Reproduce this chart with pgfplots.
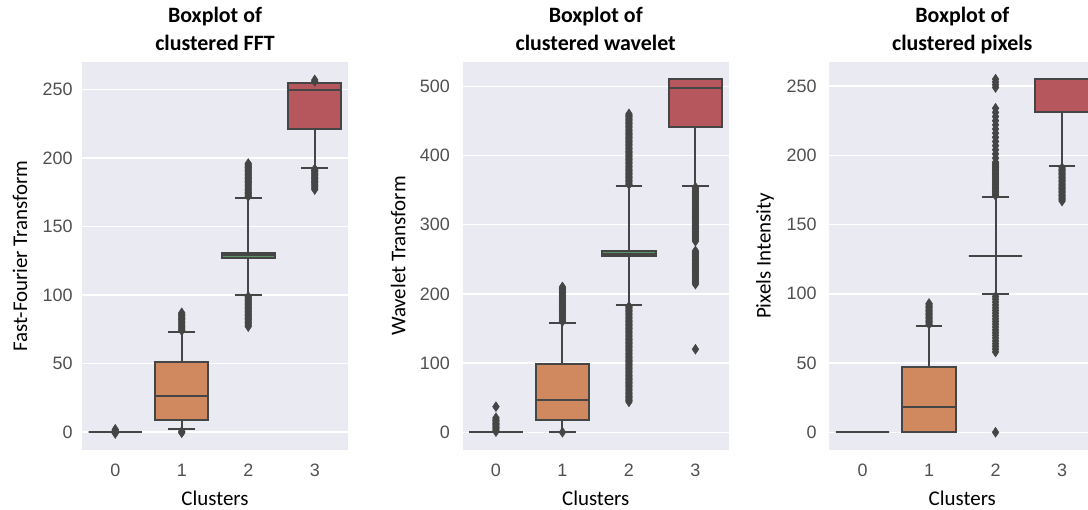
\documentclass[border=0pt]{standalone}
\usepackage{fontspec}
\setmainfont{Carlito}
\newfontfamily\tickfont{Liberation Sans}
\usepackage{pgfplots}
\pgfplotsset{compat=1.18}
\usepgfplotslibrary{statistics}

\definecolor{panelbg}{HTML}{EAEAF2}
\definecolor{edge}{HTML}{454545}
\definecolor{tickgray}{HTML}{505050}
\definecolor{c0}{HTML}{5A76A8}
\definecolor{c1}{HTML}{D0885E}
\definecolor{c2}{HTML}{5F9368}
\definecolor{c3}{HTML}{B5575C}

\pgfplotsset{
  clusterbox/.style={
    scale only axis, width=266bp, height=388bp, anchor=south west,
    xmin=-0.5, xmax=3.5,
    xtick={0,1,2,3}, xticklabels={0,1,2,3},
    axis line style={draw=none},
    major tick length=0pt,
    axis background/.style={fill=panelbg},
    ymajorgrids, xmajorgrids=false,
    major grid style={white, line width=1.4bp},
    tick label style={font=\tickfont\fontsize{18}{18}\selectfont, text=tickgray},
    /pgf/number format/assume math mode=true,
    xticklabel style={anchor=north, inner sep=0pt, yshift=-13.5bp},
    title style={font=\bfseries\fontsize{22}{28}\selectfont, align=center,
      anchor=south, inner sep=0pt, text depth=0pt,
      at={(axis description cs:0.5,1)}, yshift=5bp},
    every axis x label/.style={font=\fontsize{21}{21}\selectfont,
      at={(axis description cs:0.5,0)}, anchor=center, yshift=-48bp},
    xlabel=Clusters,
    boxplot/draw direction=y,
    boxplot/box extend=0.8,
    boxplot/whisker extend=0.4,
    boxplot/every box/.style={draw=edge, line width=2bp},
    boxplot/every whisker/.style={draw=edge, line width=2bp},
    boxplot/every median/.style={draw=edge, line width=2bp},
  },
  ylab/.style={every axis y label/.style={font=\fontsize{21}{21}\selectfont,
      at={(axis description cs:0,0.5)}, xshift=-#1, rotate=90, anchor=center}},
  ytl/.style={yticklabel style={anchor=east, inner sep=0pt, xshift=-#1}},
  cbox/.style={draw=edge, line width=2bp, fill=#1,
    mark=diamond*, mark size=5bp,
    mark options={fill=edge, draw=edge, solid, xscale=0.9, line width=0.4bp}},
}

\begin{document}
\begin{tikzpicture}
\path[use as bounding box] (0,0) rectangle (1088bp,510bp);
\clip (0,0) rectangle (1088bp,510bp);

% ---------- Fast-Fourier Transform ----------
\begin{axis}[clusterbox, at={(82bp,60bp)},
  ymin=-13.1, ymax=270.1, ytick={0,50,...,250},
  ylab=62bp, ytl=9.3bp,
  title={Boxplot of\\clustered FFT},
  ylabel={Fast-Fourier Transform}]
\addplot[cbox=c0, boxplot prepared={draw position=0,
  lower whisker=0, lower quartile=0, median=0, upper quartile=0, upper whisker=0}]
  table[row sep=\\, y index=0] {v\\ -1\\ 1\\ 2\\};
\addplot[cbox=c1, boxplot prepared={draw position=1,
  lower whisker=2, lower quartile=9, median=26, upper quartile=51, upper whisker=73}]
  table[row sep=\\, y index=0] {v\\ -0.5\\ 0.5\\
  74\\ 75\\ 76\\ 77\\ 78\\ 79\\ 80\\ 81\\ 82\\ 83\\ 84\\ 85\\ 86\\ 87\\};
\addplot[cbox=c2, boxplot prepared={draw position=2,
  lower whisker=100, lower quartile=127, median=129, upper quartile=131, upper whisker=171}]
  table[row sep=\\, y index=0] {v\\
  77\\ 78\\ 79\\ 80\\ 81\\ 82\\ 83\\ 84\\ 85\\ 86\\ 87\\ 88\\ 89\\ 90\\ 91\\ 92\\ 93\\ 94\\ 95\\ 96\\ 97\\ 98\\ 99\\
  172\\ 173\\ 174\\ 175\\ 176\\ 177\\ 178\\ 179\\ 180\\ 181\\ 182\\ 183\\ 184\\ 185\\ 186\\ 187\\ 188\\ 189\\ 190\\ 191\\ 192\\ 193\\ 194\\ 195\\ 196\\};
\addplot[cbox=c3, boxplot prepared={draw position=3,
  lower whisker=193, lower quartile=221.5, median=250, upper quartile=255, upper whisker=255}]
  table[row sep=\\, y index=0] {v\\
  177\\ 178\\ 179\\ 180\\ 181\\ 182\\ 183\\ 184\\ 185\\ 186\\ 187\\ 188\\ 189\\ 190\\ 191\\ 192\\
  256\\ 257\\};
\end{axis}

% ---------- Wavelet Transform ----------
\begin{axis}[clusterbox, at={(462.7bp,60bp)},
  ymin=-25.6, ymax=535, ytick={0,100,...,500},
  ylab=64.4bp, ytl=12.7bp,
  title={Boxplot of\\clustered wavelet},
  ylabel={Wavelet Transform}]
\addplot[cbox=c0, boxplot prepared={draw position=0,
  lower whisker=0, lower quartile=0, median=0, upper quartile=0, upper whisker=0}]
  table[row sep=\\, y index=0] {v\\
  1\\ 3\\ 5\\ 7\\ 9\\ 11\\ 13\\ 15\\ 17\\ 19\\ 21\\ 37\\};
\addplot[cbox=c1, boxplot prepared={draw position=1,
  lower whisker=1, lower quartile=18, median=47, upper quartile=99, upper whisker=158}]
  table[row sep=\\, y index=0] {v\\ 0\\
  160\\ 162\\ 164\\ 166\\ 168\\ 170\\ 172\\ 174\\ 176\\ 178\\ 180\\ 182\\ 184\\ 186\\ 188\\
  190\\ 192\\ 194\\ 196\\ 198\\ 200\\ 202\\ 204\\ 206\\ 208\\ 210\\};
\addplot[cbox=c2, boxplot prepared={draw position=2,
  lower whisker=183.5, lower quartile=254.5, median=258, upper quartile=261.5, upper whisker=356}]
  table[row sep=\\, y index=0] {v\\
  44\\ 46\\ 48\\ 50\\ 52\\ 54\\ 56\\ 58\\ 60\\ 62\\ 64\\ 66\\ 68\\ 70\\ 72\\ 74\\ 76\\ 78\\ 80\\
  82\\ 84\\ 86\\ 88\\ 90\\ 92\\ 94\\ 96\\ 98\\ 100\\ 102\\ 104\\ 106\\ 108\\ 110\\ 112\\ 114\\
  116\\ 118\\ 120\\ 122\\ 124\\ 126\\ 128\\ 130\\ 132\\ 134\\ 136\\ 138\\ 140\\ 142\\ 144\\
  146\\ 148\\ 150\\ 152\\ 154\\ 156\\ 158\\ 160\\ 162\\ 164\\ 166\\ 168\\ 170\\ 172\\ 174\\
  176\\ 178\\ 180\\ 182\\
  358\\ 360\\ 362\\ 364\\ 366\\ 368\\ 370\\ 372\\ 374\\ 376\\ 378\\ 380\\ 382\\ 384\\ 386\\
  388\\ 390\\ 392\\ 394\\ 396\\ 398\\ 400\\ 402\\ 404\\ 406\\ 408\\ 410\\ 412\\ 414\\ 416\\
  418\\ 420\\ 422\\ 424\\ 426\\ 428\\ 430\\ 432\\ 434\\ 436\\ 438\\ 440\\ 442\\ 444\\ 446\\
  448\\ 450\\ 452\\ 454\\ 456\\ 458\\ 460\\};
\addplot[cbox=c3, boxplot prepared={draw position=3,
  lower whisker=356, lower quartile=440.6, median=497, upper quartile=510.5, upper whisker=510.5}]
  table[row sep=\\, y index=0] {v\\ 120\\
  214\\ 216\\ 218\\ 220\\ 222\\ 224\\ 226\\ 228\\ 230\\ 232\\ 234\\ 236\\ 238\\ 240\\ 242\\
  244\\ 246\\ 248\\ 250\\ 252\\ 254\\ 256\\ 258\\ 260\\ 262\\
  276\\ 278\\ 280\\ 282\\ 284\\ 286\\ 288\\ 290\\ 292\\ 294\\ 296\\ 298\\ 300\\ 302\\ 304\\
  306\\ 308\\ 310\\ 312\\ 314\\ 316\\ 318\\ 320\\ 322\\ 324\\ 326\\ 328\\ 330\\ 332\\ 334\\
  336\\ 338\\ 340\\ 342\\ 344\\ 346\\ 348\\ 350\\ 352\\ 354\\};
\end{axis}

% ---------- Pixels Intensity ----------
\begin{axis}[clusterbox, at={(829.3bp,60bp)},
  ymin=-12.8, ymax=267.4, ytick={0,50,...,250},
  ylab=64.3bp, ytl=12.6bp,
  title={Boxplot of\\clustered pixels},
  ylabel={Pixels Intensity}]
\addplot[cbox=c0, boxplot prepared={draw position=0,
  lower whisker=0, lower quartile=0, median=0, upper quartile=0, upper whisker=0}]
  coordinates {};
\addplot[cbox=c1, boxplot prepared={draw position=1,
  lower whisker=0, lower quartile=0, median=18, upper quartile=47, upper whisker=76.5}]
  table[row sep=\\, y index=0] {v\\
  78\\ 79\\ 80\\ 81\\ 82\\ 83\\ 84\\ 85\\ 86\\ 87\\ 88\\ 89\\ 90\\ 91\\ 92\\ 93\\};
\addplot[cbox=c2, boxplot prepared={draw position=2,
  lower whisker=100, lower quartile=127, median=127, upper quartile=127, upper whisker=170}]
  table[row sep=\\, y index=0] {v\\ 0\\
  58\\ 60\\ 62\\ 64\\ 66\\ 68\\ 70\\ 72\\ 74\\ 76\\ 78\\ 80\\ 82\\ 84\\ 86\\ 88\\ 90\\ 92\\ 94\\ 96\\ 98\\
  171\\ 172\\ 173\\ 174\\ 175\\ 176\\ 177\\ 178\\ 179\\ 180\\ 181\\ 182\\ 183\\ 184\\ 185\\
  186\\ 187\\ 188\\ 189\\ 190\\ 191\\ 192\\ 193\\ 194\\ 195\\
  198\\ 201\\ 204\\ 207\\ 210\\ 213\\ 216\\ 219\\ 222\\ 225\\ 228\\ 231\\ 234\\
  249\\ 251\\ 253\\ 255\\};
\addplot[cbox=c3, boxplot prepared={draw position=3,
  lower whisker=192.5, lower quartile=231, median=255, upper quartile=255, upper whisker=255}]
  table[row sep=\\, y index=0] {v\\
  167\\ 168\\ 169\\ 170\\ 171\\ 172\\ 173\\ 174\\ 175\\ 176\\ 177\\ 178\\ 179\\ 180\\ 181\\
  182\\ 183\\ 184\\ 185\\ 186\\ 187\\ 188\\ 189\\ 190\\ 191\\};
\end{axis}
\end{tikzpicture}
\end{document}
